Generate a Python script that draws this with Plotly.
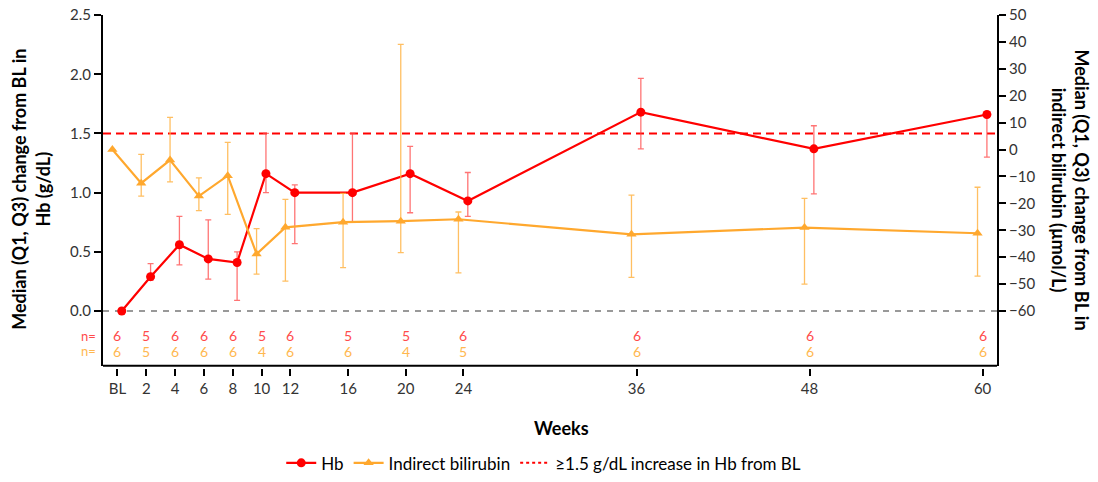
import plotly.graph_objects as go

# ---------------- data ----------------
weeks = [0, 2, 4, 6, 8, 10, 12, 16, 20, 24, 36, 48, 60]
week_labels = ["BL", "2", "4", "6", "8", "10", "12", "16", "20", "24", "36", "48", "60"]

hb_median = [0.00, 0.29, 0.56, 0.44, 0.41, 1.16, 1.00, 1.00, 1.16, 0.93, 1.68, 1.37, 1.66]
hb_q1 = [0.00, 0.26, 0.39, 0.27, 0.09, 1.00, 0.57, 0.75, 0.83, 0.80, 1.37, 0.99, 1.30]
hb_q3 = [0.00, 0.40, 0.80, 0.77, 0.50, 1.50, 1.065, 1.50, 1.39, 1.17, 1.965, 1.565, 1.66]

bili_median = [0.0, -12.5, -3.9, -17.3, -9.7, -38.8, -28.9, -27.0, -26.6, -25.9, -31.5, -29.0, -31.1]
bili_q1 = [0.0, -17.3, -12.0, -22.7, -24.1, -46.3, -48.9, -43.9, -38.3, -45.8, -47.5, -50.0, -47.0]
bili_q3 = [0.0, -1.8, 12.0, -10.5, 2.7, -29.4, -18.5, -16.3, 39.1, -23.2, -16.9, -18.1, -14.0]

hb_n = [6, 5, 6, 6, 6, 5, 6, 5, 5, 6, 6, 6, 6]
bili_n = [6, 5, 6, 6, 6, 4, 6, 6, 4, 5, 6, 6, 6]

hb_threshold = 1.5

left_ticks = [0.0, 0.5, 1.0, 1.5, 2.0, 2.5]
right_ticks = [-60, -50, -40, -30, -20, -10, 0, 10, 20, 30, 40, 50]

# ---------------- style ----------------
RED = "#FF0000"
ORANGE = "#FFA82E"
RED_N = "#FF4B4B"
ORANGE_N = "#FFB850"
FONT = "Lato"
TXT = "#333333"

hb_offset = 0.3
bili_offset = -0.35

fig = go.Figure()

fig.add_trace(go.Scatter(
    x=[w + hb_offset for w in weeks], y=hb_median, name="Hb",
    mode="lines+markers",
    line=dict(color=RED, width=2.2),
    marker=dict(symbol="circle", size=9, color=RED),
    error_y=dict(type="data", symmetric=False,
                 array=[q3 - m for q3, m in zip(hb_q3, hb_median)],
                 arrayminus=[m - q1 for q1, m in zip(hb_q1, hb_median)],
                 color="rgba(255,70,70,0.75)", thickness=1.3, width=3),
    yaxis="y",
))

fig.add_trace(go.Scatter(
    x=[w + bili_offset for w in weeks], y=bili_median, name="Indirect bilirubin",
    mode="lines+markers",
    line=dict(color=ORANGE, width=2.2),
    marker=dict(symbol="triangle-up", size=9, color=ORANGE),
    error_y=dict(type="data", symmetric=False,
                 array=[q3 - m for q3, m in zip(bili_q3, bili_median)],
                 arrayminus=[m - q1 for q1, m in zip(bili_q1, bili_median)],
                 color="rgba(255,180,70,0.85)", thickness=1.3, width=3),
    yaxis="y2",
))

# legend-only entry for the threshold line
fig.add_trace(go.Scatter(
    x=[None], y=[None], name="\u22651.5 g/dL increase in Hb from BL",
    mode="lines", line=dict(color=RED, width=2, dash="dot"),
))

# reference lines
fig.add_shape(type="line", xref="x domain", yref="y", x0=0, x1=1,
              y0=hb_threshold, y1=hb_threshold,
              line=dict(color=RED, width=2, dash="8px,5px"), layer="below")
fig.add_shape(type="line", xref="x domain", yref="y", x0=0, x1=1, y0=0, y1=0,
              line=dict(color="#999999", width=1.8, dash="6px,6px"), layer="below")

# bottom box line
Y_DOM0 = 0.0065
fig.add_shape(type="line", xref="x domain", yref="paper", x0=0, x1=1,
              y0=Y_DOM0, y1=Y_DOM0, line=dict(color="black", width=2))

# n = annotations
ann = []
for w, a, b in zip(weeks, hb_n, bili_n):
    ann.append(dict(x=w, y=0.0907, xref="x", yref="paper", text=str(a), showarrow=False,
                    font=dict(family=FONT, size=14, color=RED_N), yanchor="middle"))
    ann.append(dict(x=w, y=0.048, xref="x", yref="paper", text=str(b), showarrow=False,
                    font=dict(family=FONT, size=14, color=ORANGE_N), yanchor="middle"))
ann.append(dict(x=-0.0056, y=0.0907, xref="paper", yref="paper", text="n=", showarrow=False,
                xanchor="right", yanchor="middle", font=dict(family=FONT, size=13, color=RED_N)))
ann.append(dict(x=-0.0056, y=0.048, xref="paper", yref="paper", text="n=", showarrow=False,
                xanchor="right", yanchor="middle", font=dict(family=FONT, size=13, color=ORANGE_N)))

# titles
ann.append(dict(x=0.513, y=-0.170, xref="paper", yref="paper", text="<b>Weeks</b>",
                showarrow=False, yanchor="middle",
                font=dict(family=FONT, size=18, color="black")))
ann.append(dict(x=-0.0805, y=0.505, xref="paper", yref="paper",
                text="<b>Median (Q1, Q3) change from BL in<br>Hb (g/dL)</b>",
                showarrow=False, textangle=-90, xanchor="center", yanchor="middle",
                font=dict(family=FONT, size=18, color="black")))
ann.append(dict(x=1.082, y=0.505, xref="paper", yref="paper",
                text="<b>Median (Q1, Q3) change from BL in<br>indirect bilirubin (\u00b5mol/L)</b>",
                showarrow=False, textangle=90, xanchor="center", yanchor="middle",
                font=dict(family=FONT, size=18, color="black")))

fig.update_layout(
    width=1098, height=482,
    margin=dict(l=103, r=101, t=15, b=114, autoexpand=False),
    paper_bgcolor="white", plot_bgcolor="white",
    font=dict(family=FONT, size=15, color=TXT),
    showlegend=True,
    legend=dict(orientation="h", x=0.493, xanchor="center", y=-0.27, yanchor="middle",
                font=dict(family=FONT, size=17, color="black"),
                itemwidth=30, tracegroupgap=0),
    xaxis=dict(range=[-1, 61], tickvals=weeks, ticktext=week_labels,
               showgrid=False, zeroline=False, showline=False,
               ticks="outside", ticklen=7, tickwidth=2, tickcolor="black",
               anchor="free", position=0, automargin=False,
               tickfont=dict(family=FONT, size=15, color=TXT)),
    yaxis=dict(range=[-0.462, 2.5005], domain=[Y_DOM0, 1], tickvals=left_ticks,
               tickformat=".1f", showgrid=False, zeroline=False,
               showline=True, linecolor="black", linewidth=2, automargin=False,
               ticklabeloverflow="allow",
               ticks="outside", ticklen=7, tickwidth=2, tickcolor="black",
               tickfont=dict(family=FONT, size=15, color=TXT)),
    yaxis2=dict(range=[-80.33, 50.02], overlaying="y", side="right", tickvals=right_ticks,
                ticktext=[("\u2212" + str(abs(v))) if v < 0 else str(v) for v in right_ticks],
                showgrid=False, zeroline=False, automargin=False,
                ticklabeloverflow="allow",
                showline=True, linecolor="black", linewidth=2,
                ticks="outside", ticklen=7, tickwidth=2, tickcolor="black",
                tickfont=dict(family=FONT, size=15, color=TXT)),
    annotations=ann,
)

# remove the default 8px page margin so the figure fills the window exactly
fig.write_html("out.html",
               config={"displayModeBar": False},
               post_script="document.body.style.margin='0';document.body.style.overflow='hidden';")
